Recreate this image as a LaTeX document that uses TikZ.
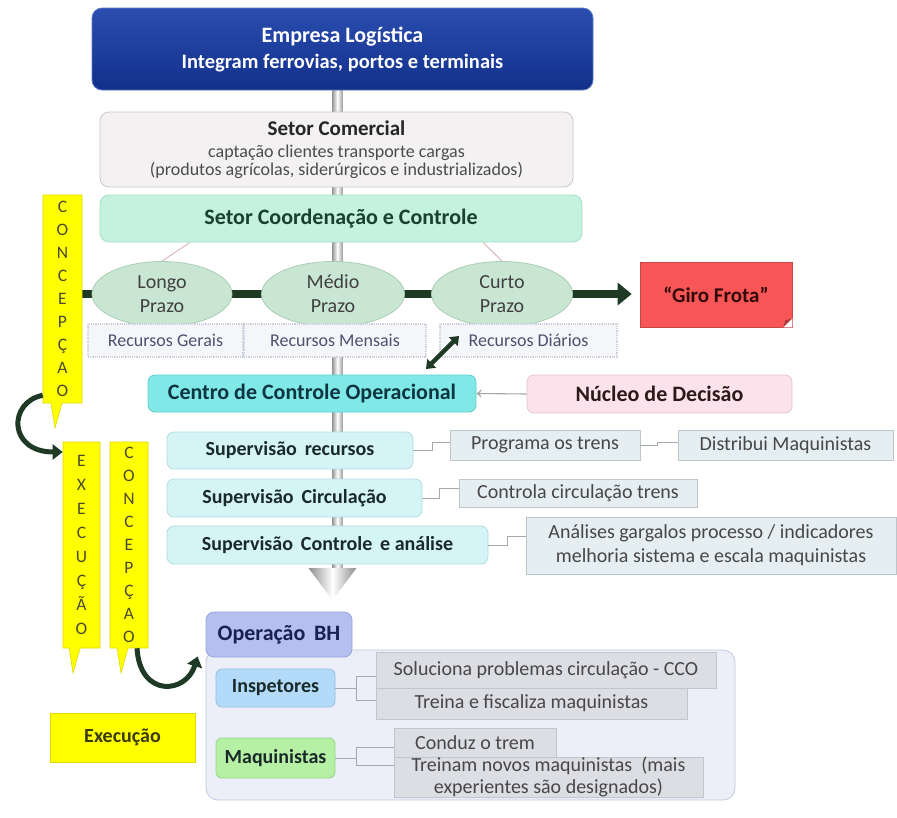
\documentclass[tikz,border=0pt]{standalone}
\usepackage{fontspec}
\setmainfont{Carlito}
\usetikzlibrary{shapes.geometric,shapes.callouts,arrows.meta}
\definecolor{bluetop}{HTML}{2A4DB0}
\definecolor{bluebot}{HTML}{12308A}
\definecolor{blueedge}{HTML}{5B78C8}
\definecolor{comfill}{HTML}{F3F1F1}
\definecolor{comedge}{HTML}{CBC9C9}
\definecolor{coordfill}{HTML}{C4F2DF}
\definecolor{coordedge}{HTML}{A6DEC6}
\definecolor{ellfill}{HTML}{C9E6D3}
\definecolor{elledge}{HTML}{AACDB6}
\definecolor{recfill}{HTML}{F5F6FA}
\definecolor{recedge}{HTML}{CDD0DC}
\definecolor{girofill}{HTML}{F85656}
\definecolor{ccofill}{HTML}{80E9E8}
\definecolor{ccoedge}{HTML}{60D0D0}
\definecolor{nucfill}{HTML}{FCE3EB}
\definecolor{nucedge}{HTML}{E6C3CE}
\definecolor{supfill}{HTML}{D5F4F6}
\definecolor{supedge}{HTML}{B0DCE0}
\definecolor{notefill}{HTML}{E5EEF0}
\definecolor{noteedge}{HTML}{BCC6C9}
\definecolor{opfill}{HTML}{B5C0F0}
\definecolor{opedge}{HTML}{98A6E0}
\definecolor{contfill}{HTML}{ECEEF8}
\definecolor{contedge}{HTML}{C3C8E0}
\definecolor{inspfill}{HTML}{B3DAF8}
\definecolor{inspedge}{HTML}{90C0E8}
\definecolor{maqfill}{HTML}{B6F0A4}
\definecolor{maqedge}{HTML}{90D880}
\definecolor{subfill}{HTML}{DCDEE4}
\definecolor{subedge}{HTML}{C2C5CC}
\definecolor{yel}{HTML}{FFFF00}
\definecolor{yeledge}{HTML}{E0D800}
\definecolor{dkgreen}{HTML}{1F3A24}
\definecolor{linkgray}{HTML}{A2AAAC}
\definecolor{rosy}{HTML}{D6A8B0}
\definecolor{lettercol}{HTML}{4A4A30}
\newcommand\myfs[2]{\fontsize{#1}{#2}\selectfont}
\pgfdeclarelayer{bg}
\pgfsetlayers{bg,main}
\begin{document}
\begin{tikzpicture}[x=1pt,y=-1pt,
  box/.style={draw, rounded corners=7pt, inner sep=0pt, align=center, line width=0.8pt},
  ellbox/.style={ellipse, draw=elledge, fill=ellfill, line width=0.8pt, inner sep=0pt, minimum width=140pt, minimum height=65pt, align=center, text=black!75, font=\myfs{20}{24}},
  recbox/.style={draw=recedge, fill=recfill, densely dotted, line width=1.2pt, inner sep=0pt, minimum height=33pt, text={rgb,255:red,80;green,80;blue,110}, font=\myfs{18}{20}},
  supbox/.style={box, draw=supedge, fill=supfill, minimum height=37pt, text={rgb,255:red,26;green,42;blue,42}, font=\myfs{20}{22}\bfseries},
  notebox/.style={draw=noteedge, fill=notefill, line width=0.8pt, inner sep=0pt, align=center, text=black!72, font=\myfs{20}{23}},
  subbox/.style={draw=subedge, fill=subfill, line width=0.8pt, inner sep=0pt, align=center, text=black!72, font=\myfs{20}{23}},
  yelbar/.style={rectangle callout, draw=yeledge, fill=yel, line width=0.6pt, inner sep=0pt, callout pointer width=11pt, align=center, text=lettercol},
  link/.style={draw=linkgray, line width=0.9pt},
  curv/.style={dkgreen, line width=5pt, -{Triangle[length=10pt,width=15pt]}}
]
\useasboundingbox (0,0) rectangle (897,817);

% top
\node[box, draw=blueedge, top color=bluetop, bottom color=bluebot, rounded corners=10pt, minimum width=501pt, minimum height=82pt, text=white, font=\myfs{20.5}{26}\bfseries] (emp) at (342.5,49)
  {{\myfs{22}{26}\bfseries Empresa Logística}\\ Integram ferrovias, portos e terminais};
\node[box, draw=comedge, fill=comfill, rounded corners=9pt, minimum width=473pt, minimum height=75pt, text=black!70, font=\myfs{18}{18}] (com) at (336.5,149.5)
  {{\myfs{21}{22}\bfseries\color{black!85}Setor Comercial}\\[4pt] captação clientes transporte cargas\\ (produtos agrícolas, siderúrgicos e industrializados)};
\node[box, draw=coordedge, fill=coordfill, rounded corners=9pt, minimum width=482pt, minimum height=47pt, text={rgb,255:red,26;green,64;blue,48}, font=\myfs{22}{24}\bfseries] (coord) at (341,218.5) {Setor Coordenação e Controle};

% ellipses
\node[ellbox] (longo) at (162,294) {Longo\\Prazo};
\node[ellbox, minimum width=143pt] (medio) at (333,294) {Médio\\Prazo};
\node[ellbox, minimum width=141pt] (curto) at (502,294) {Curto\\Prazo};

% recursos
\node[recbox, minimum width=155pt] (rg) at (165.5,340.5) {Recursos Gerais};
\node[recbox, minimum width=182pt] (rm) at (335,340.5) {Recursos Mensais};
\node[recbox, minimum width=177pt] (rd) at (528.5,340.5) {Recursos Diários};

% giro frota
\node[draw=girofill!80!black, fill=girofill, line width=0.6pt, minimum width=152pt, minimum height=65pt, inner sep=0pt, text={rgb,255:red,50;green,8;blue,8}, font=\myfs{21}{24}\bfseries] (giro) at (716,294.5) {“Giro Frota”};
\fill[white] (giro.south east) -- ++(0,-9) -- ++(-9,9) -- cycle;
\fill[girofill!70!black] (giro.south east) ++(0,-9) -- ++(-9,9) -- ++(2,-7) -- cycle;

% yellow bars
\node[yelbar, minimum width=39pt, minimum height=208pt, callout absolute pointer={(55,428)}, font=\myfs{17.5}{23}] (c1) at (62.5,299) {C\\O\\N\\C\\E\\P\\Ç\\A\\O};
\node[yelbar, minimum width=37pt, minimum height=206pt, callout absolute pointer={(73,673)}, font=\myfs{17.5}{24}] (exec) at (81.5,545) {E\\X\\E\\C\\U\\Ç\\Ã\\O};
\node[yelbar, minimum width=38pt, minimum height=206pt, callout absolute pointer={(121,673)}, font=\myfs{17.5}{23}] (c2) at (129,545) {C\\O\\N\\C\\E\\P\\Ç\\A\\O};
\node[draw=yeledge, fill=yel, line width=0.6pt, minimum width=145pt, minimum height=49pt, inner sep=0pt, text={rgb,255:red,58;green,58;blue,16}, font=\myfs{20}{22}\bfseries] (exebox) at (122.5,737.5) {Execução};

% CCO and Nucleo
\node[box, draw=ccoedge, fill=ccofill, minimum width=328pt, minimum height=37pt, text={rgb,255:red,13;green,53;blue,64}, font=\myfs{22}{24}\bfseries] (cco) at (312,393.5) {Centro de Controle Operacional};
\node[box, draw=nucedge, fill=nucfill, minimum width=265pt, minimum height=38pt, text={rgb,255:red,42;green,26;blue,26}, font=\myfs{22}{24}\bfseries] (nuc) at (659.5,394) {Núcleo de Decisão};

% supervisao
\node[supbox, minimum width=246pt] (sr) at (290,450.5) {Supervisão\, recursos};
\node[supbox, minimum width=255pt, minimum height=38pt] (sc) at (294.5,498) {Supervisão\, Circulação};
\node[supbox, minimum width=321pt, minimum height=38pt] (sca) at (327.5,545) {Supervisão\, Controle\, e análise};

\node[notebox, minimum width=190pt, minimum height=30pt] (prog) at (545,445) {Programa os trens};
\node[notebox, minimum width=215pt, minimum height=30pt] (dist) at (785.5,445) {Distribui Maquinistas};
\node[notebox, minimum width=238pt, minimum height=28pt] (ctrl) at (578,493) {Controla circulação trens};
\node[notebox, minimum width=370pt, minimum height=57pt, font=\myfs{20}{24}] (anal) at (711,545.5) {Análises gargalos processo / indicadores\\melhoria sistema e escala maquinistas};

% operacao BH
\node[box, draw=contedge, fill=contfill, rounded corners=12pt, minimum width=529pt, minimum height=150pt] (cont) at (470.5,725) {};
\node[box, draw=opedge, fill=opfill, rounded corners=8pt, minimum width=146pt, minimum height=45pt, text={rgb,255:red,26;green,32;blue,80}, font=\myfs{22}{24}\bfseries] (op) at (279,634.5) {Operação\, BH};
\node[box, draw=inspedge, fill=inspfill, rounded corners=6pt, minimum width=119pt, minimum height=38pt, text={rgb,255:red,26;green,42;blue,42}, font=\myfs{20}{22}\bfseries] (insp) at (275.5,688) {Inspetores};
\node[box, draw=maqedge, fill=maqfill, rounded corners=6pt, minimum width=119pt, minimum height=40pt, text={rgb,255:red,26;green,42;blue,42}, font=\myfs{20}{22}\bfseries] (maq) at (275.5,758) {Maquinistas};
\node[subbox, minimum width=340pt, minimum height=36pt] (sol) at (546,670) {Soluciona problemas circulação - CCO};
\node[subbox, minimum width=311pt, minimum height=31pt] (trei) at (531.5,703.5) {Treina e fiscaliza maquinistas};
\node[subbox, minimum width=162pt, minimum height=29pt] (cond) at (475,742.5) {Conduz o trem};
\node[subbox, minimum width=309pt, minimum height=40pt, font=\myfs{20}{22}] (trn) at (548.5,777) {Treinam novos maquinistas\ \ (mais\\experientes são designados)};

% connectors
\draw[link] (sr.east) -- ++(19,0) |- ([yshift=3pt]prog.west);
\draw[link] (prog.east) -- ++(17,0) |- ([yshift=3pt]dist.west);
\draw[link] (sc.east) -- ++(17,0) |- ([yshift=5pt]ctrl.west);
\draw[link] (sca.east) -- ++(19,0) |- ([yshift=9pt]anal.west);
\coordinate (ib) at (356,688);
\coordinate (mb) at (356,758);
\draw[link] (insp.east) -- (ib);
\draw[link] (ib) |- ([yshift=-6pt]sol.west);
\draw[link] (ib) |- ([yshift=3.5pt]trei.west);
\draw[link] (maq.east) -- (mb);
\draw[link] (mb) |- ([yshift=-4.5pt]cond.west);
\draw[link] (mb) |- ([yshift=12pt]trn.west);
\draw[draw=black!35, line width=1.1pt, -{To[length=5pt,width=8pt]}] (nuc.west) -- (cco.east);

% dark green arrows
\coordinate (dgA) at (426,369);
\coordinate (dgB) at (459,336);
\draw[dkgreen, line width=4.5pt, {Triangle[length=8pt,width=12pt]}-{Triangle[length=8pt,width=12pt]}] (dgA) -- (dgB);
\draw[curv] ([yshift=8pt]c1.south west) .. controls (8,402) and (8,452) .. ([yshift=93pt]exec.west);
\draw[curv] ([xshift=8pt]c2.south) .. controls (140,698) and (186,694) .. ([xshift=-8pt,yshift=-22pt]op.west);

% background layer: pipe, timeline
\begin{pgfonlayer}{bg}
  \fill[white] (0,0) rectangle (897,817);
  \coordinate (pipeend) at (332.5,568);
  \shade[left color=black!38, right color=black!38, middle color=white] ([xshift=-10pt]emp.south) rectangle ([xshift=10pt]pipeend);
  \shade[left color=black!45, right color=black!45, middle color=white] ([xshift=-24pt]pipeend) -- ([xshift=24pt]pipeend) -- ([yshift=-32pt]pipeend) -- cycle;
  \draw[dkgreen, line width=8pt, -{Triangle[length=14pt,width=22pt]}] (c1.east |- longo.center) -- ([xshift=-8pt]giro.west |- longo.center);
  \draw[rosy, line width=0.8pt] (coord.south -| 190,0) -- (longo.north);
  \draw[rosy, line width=0.8pt] (coord.south -| 483,0) -- (curto.north);
\end{pgfonlayer}
\end{tikzpicture}
\end{document}
